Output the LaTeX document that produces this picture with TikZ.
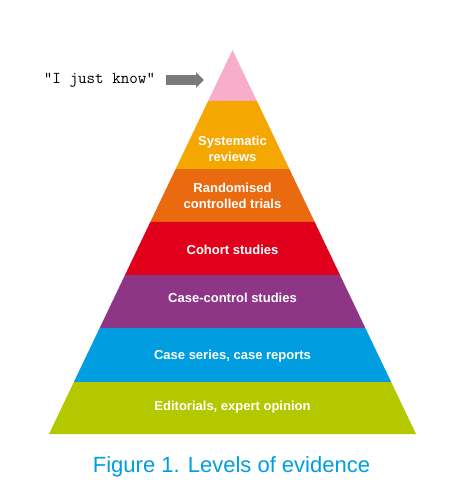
\documentclass[tikz,border=0pt]{standalone}
\usepackage{fontspec}
\setmainfont{Liberation Sans}
\usetikzlibrary{arrows.meta, calc, positioning}
\definecolor{lvpink}{HTML}{F8ADCA}
\definecolor{lvgold}{HTML}{F4A700}
\definecolor{lvorange}{HTML}{EA6A10}
\definecolor{lvred}{HTML}{E1001B}
\definecolor{lvpurple}{HTML}{8E3586}
\definecolor{lvblue}{HTML}{009EE0}
\definecolor{lvgreen}{HTML}{B4C800}
\tikzset{
  level label/.style = {text=white, align=center, inner sep=0pt,
                        font=\bfseries\fontsize{13}{16}\selectfont},
  quote/.style = {inner sep=0pt, font=\ttfamily\fontsize{16.6}{18}\selectfont},
  pointer/.style = {line width=9.5pt, black!52!white, shorten <=11pt,
                    arrows={-Triangle[length=8pt, width=15pt]}},
  caption/.style = {text=lvblue, inner sep=0pt, font=\fontsize{22}{26}\selectfont},
}

\begin{document}
\begin{tikzpicture}[x=1pt, y=-1pt]
    \useasboundingbox (0,0) rectangle (471,497);

    %% Corners of the pyramid
    \coordinate (apex) at (232.5,50);
    \coordinate (bl) at (49,434);
    \coordinate (br) at (416,434);

    %% Fill the levels from the top down
    \foreach \col/\from/\to in {lvpink/0/0.1328, lvgold/0.1328/0.3099,
        lvorange/0.3099/0.4479, lvred/0.4479/0.5859, lvpurple/0.5859/0.724,
        lvblue/0.724/0.8646, lvgreen/0.8646/1}{%
      \fill [\col] ($(apex)!\from!(bl)$) -- ($(apex)!\to!(bl)$)
        -- ($(apex)!\to!(br)$) -- ($(apex)!\from!(br)$) -- cycle;
    }

    %% Level labels
    \node [level label] (sys) at (232.5,149) {Systematic\\reviews};
    \node [level label] (rct) at (232.5,196) {Randomised\\controlled trials};
    \node [level label] (cohort) at (232.5,250) {Cohort studies};
    \node [level label] (casectl) at (232.5,298) {Case-control studies};
    \node [level label] (series) at (232.5,356) {Case series, case reports};
    \node [level label] (opinion) at (232.5,407) {Editorials, expert opinion};

    %% The lowest level of all
    \node [quote, anchor=base] (know) at (99.5,84) {"I just know"};
    \coordinate (aim) at (204,80);
    \draw [pointer] (know.east |- aim) -- (aim);

    \node [caption] (title) at (231.5,467) {Figure 1. Levels of evidence};
\end{tikzpicture}
\end{document}
